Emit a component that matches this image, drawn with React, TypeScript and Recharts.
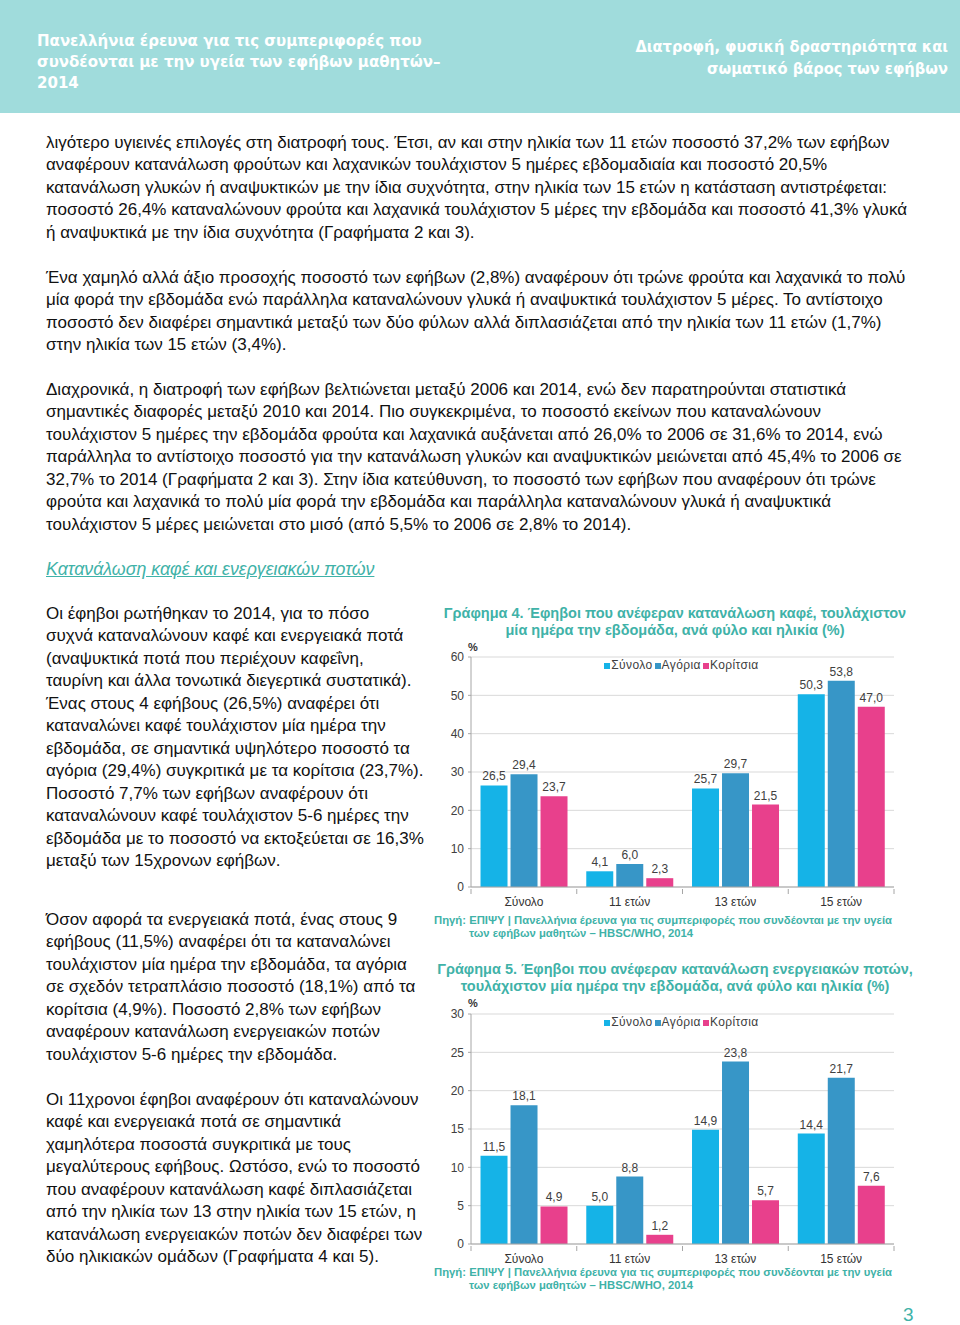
import { Bar, BarChart, CartesianGrid, LabelList, XAxis, YAxis } from 'recharts';

const categories = ['Σύνολο', '11 ετών', '13 ετών', '15 ετών'];
const seriesNames = ['Σύνολο', 'Αγόρια', 'Κορίτσια'];

// Γράφημα 4 - καφές
const coffeeTotal = [26.5, 4.1, 25.7, 50.3];
const coffeeBoys = [29.4, 6.0, 29.7, 53.8];
const coffeeGirls = [23.7, 2.3, 21.5, 47.0];
const coffeeTicks = [0, 10, 20, 30, 40, 50, 60];

// Γράφημα 5 - ενεργειακά ποτά
const energyTotal = [11.5, 5.0, 14.9, 14.4];
const energyBoys = [18.1, 8.8, 23.8, 21.7];
const energyGirls = [4.9, 1.2, 5.7, 7.6];
const energyTicks = [0, 5, 10, 15, 20, 25, 30];

const colors = ['#15b3e7', '#3796c7', '#e8408c'];
const teal = '#3fb2a8';
const font = '"Liberation Sans", Arial, sans-serif';

const fmt = (v: any) => Number(v).toFixed(1).replace('.', ',');

function buildRows(total: number[], boys: number[], girls: number[]) {
  return categories.map((c, i) => ({ name: c, total: total[i], boys: boys[i], girls: girls[i] }));
}

function XTick(props: any) {
  const { x, y, payload, index, visibleTicksCount } = props;
  const half = payload && payload.offset ? payload.offset : 0;
  const last = index === (visibleTicksCount ?? 4) - 1;
  return (
    <g>
      {half > 0 && <line x1={x - half} x2={x - half} y1={y - 6} y2={y - 1} stroke="#a6a6a6" />}
      {half > 0 && last && <line x1={x + half} x2={x + half} y1={y - 6} y2={y - 1} stroke="#a6a6a6" />}
      <text x={x} y={y + 11} textAnchor="middle" fontSize={12} fill="#333" fontFamily={font}>
        {payload.value}
      </text>
    </g>
  );
}

function LegendBox() {
  return (
    <div style={{ position: 'absolute', left: 41, width: 423, top: 19, display: 'flex', justifyContent: 'center', fontSize: 12, letterSpacing: 0.4, fontFamily: font, color: '#404040', lineHeight: '13px' }}>
      {seriesNames.map((n, i) => (
        <span key={n} style={{ display: 'flex', alignItems: 'center', marginRight: 2 }}>
          <span style={{ width: 6, height: 6, background: colors[i], display: 'inline-block', marginRight: 1 }} />
          {n}
        </span>
      ))}
    </div>
  );
}

function Chart({ rows, ticks, max, top }: { rows: any[]; ticks: number[]; max: number; top: number }) {
  const keys = ['total', 'boys', 'girls'];
  return (
    <div style={{ position: 'absolute', left: 430, top, width: 480, height: 280 }}>
      <BarChart width={480} height={280} data={rows} margin={{ top: 17, right: 16, bottom: 8, left: 11 }} barCategoryGap="9%" barGap={3}>
        <CartesianGrid vertical={false} stroke="#d9d9d9" />
        <XAxis dataKey="name" height={25} tickLine={false} stroke="#a6a6a6" tick={<XTick />} interval={0} />
        <YAxis
          width={30}
          domain={[0, max]}
          ticks={ticks}
          tickSize={3}
          tickMargin={4}
          stroke="#a6a6a6"
          tick={{ fontSize: 12, fill: '#404040', fontFamily: font }}
        />
        {keys.map((k, i) => (
          <Bar key={k} dataKey={k} name={seriesNames[i]} fill={colors[i]} isAnimationActive={false}>
            <LabelList dataKey={k} position="top" offset={5} formatter={fmt} style={{ fontSize: 12, fill: '#404040', fontFamily: font }} />
          </Bar>
        ))}
      </BarChart>
      <LegendBox />
    </div>
  );
}

const headLeft = ['Πανελλήνια έρευνα για τις συμπεριφορές που', 'συνδέονται με την υγεία των εφήβων μαθητών–', '2014'];
const headRight = ['Διατροφή, φυσική δραστηριότητα και', 'σωματικό βάρος των εφήβων'];

const para1 = [
  'λιγότερο υγιεινές επιλογές στη διατροφή τους. Έτσι, αν και στην ηλικία των 11 ετών ποσοστό 37,2% των εφήβων',
  'αναφέρουν κατανάλωση φρούτων και λαχανικών τουλάχιστον 5 ημέρες εβδομαδιαία και ποσοστό 20,5%',
  'κατανάλωση γλυκών ή αναψυκτικών με την ίδια συχνότητα, στην ηλικία των 15 ετών η κατάσταση αντιστρέφεται:',
  'ποσοστό 26,4% καταναλώνουν φρούτα και λαχανικά τουλάχιστον 5 μέρες την εβδομάδα και ποσοστό 41,3% γλυκά',
  'ή αναψυκτικά με την ίδια συχνότητα (Γραφήματα 2 και 3).',
];
const para2 = [
  'Ένα χαμηλό αλλά άξιο προσοχής ποσοστό των εφήβων (2,8%) αναφέρουν ότι τρώνε φρούτα και λαχανικά το πολύ',
  'μία φορά την εβδομάδα ενώ παράλληλα καταναλώνουν γλυκά ή αναψυκτικά τουλάχιστον 5 μέρες. Το αντίστοιχο',
  'ποσοστό δεν διαφέρει σημαντικά μεταξύ των δύο φύλων αλλά διπλασιάζεται από την ηλικία των 11 ετών (1,7%)',
  'στην ηλικία των 15 ετών (3,4%).',
];
const para3 = [
  'Διαχρονικά, η διατροφή των εφήβων βελτιώνεται μεταξύ 2006 και 2014, ενώ δεν παρατηρούνται στατιστικά',
  'σημαντικές διαφορές μεταξύ 2010 και 2014. Πιο συγκεκριμένα, το ποσοστό εκείνων που καταναλώνουν',
  'τουλάχιστον 5 ημέρες την εβδομάδα φρούτα και λαχανικά αυξάνεται από 26,0% το 2006 σε 31,6% το 2014, ενώ',
  'παράλληλα το αντίστοιχο ποσοστό για την κατανάλωση γλυκών και αναψυκτικών μειώνεται από 45,4% το 2006 σε',
  '32,7% το 2014 (Γραφήματα 2 και 3). Στην ίδια κατεύθυνση, το ποσοστό των εφήβων που αναφέρουν ότι τρώνε',
  'φρούτα και λαχανικά το πολύ μία φορά την εβδομάδα και παράλληλα καταναλώνουν γλυκά ή αναψυκτικά',
  'τουλάχιστον 5 μέρες μειώνεται στο μισό (από 5,5% το 2006 σε 2,8% το 2014).',
];
const left1 = [
  'Οι έφηβοι ρωτήθηκαν το 2014, για το πόσο',
  'συχνά καταναλώνουν καφέ και ενεργειακά ποτά',
  '(αναψυκτικά ποτά που περιέχουν καφεΐνη,',
  'ταυρίνη και άλλα τονωτικά διεγερτικά συστατικά).',
  'Ένας στους 4 εφήβους (26,5%) αναφέρει ότι',
  'καταναλώνει καφέ τουλάχιστον μία ημέρα την',
  'εβδομάδα, σε σημαντικά υψηλότερο ποσοστό τα',
  'αγόρια (29,4%) συγκριτικά με τα κορίτσια (23,7%).',
  'Ποσοστό 7,7% των εφήβων αναφέρουν ότι',
  'καταναλώνουν καφέ τουλάχιστον 5-6 ημέρες την',
  'εβδομάδα με το ποσοστό να εκτοξεύεται σε 16,3%',
  'μεταξύ των 15χρονων εφήβων.',
];
const left2 = [
  'Όσον αφορά τα ενεργειακά ποτά, ένας στους 9',
  'εφήβους (11,5%) αναφέρει ότι τα καταναλώνει',
  'τουλάχιστον μία ημέρα την εβδομάδα, τα αγόρια',
  'σε σχεδόν τετραπλάσιο ποσοστό (18,1%) από τα',
  'κορίτσια (4,9%). Ποσοστό 2,8% των εφήβων',
  'αναφέρουν κατανάλωση ενεργειακών ποτών',
  'τουλάχιστον 5-6 ημέρες την εβδομάδα.',
];
const left3 = [
  'Οι 11χρονοι έφηβοι αναφέρουν ότι καταναλώνουν',
  'καφέ και ενεργειακά ποτά σε σημαντικά',
  'χαμηλότερα ποσοστά συγκριτικά με τους',
  'μεγαλύτερους εφήβους. Ωστόσο, ενώ το ποσοστό',
  'που αναφέρουν κατανάλωση καφέ διπλασιάζεται',
  'από την ηλικία των 13 στην ηλικία των 15 ετών, η',
  'κατανάλωση ενεργειακών ποτών δεν διαφέρει των',
  'δύο ηλικιακών ομάδων (Γραφήματα 4 και 5).',
];

function Block({ lines, top, size = 17 }: { lines: string[]; top: number; size?: number }) {
  return (
    <div style={{ position: 'absolute', left: 46, top, fontSize: size, lineHeight: '22.5px', fontFamily: font, color: '#111', whiteSpace: 'nowrap' }}>
      {lines.map((l, i) => (
        <div key={i}>{l}</div>
      ))}
    </div>
  );
}

function Title({ lines, top }: { lines: string[]; top: number }) {
  return (
    <div style={{ position: 'absolute', left: 430, width: 490, top, textAlign: 'center', fontSize: 14.5, lineHeight: '17px', fontWeight: 'bold', color: teal, fontFamily: font, whiteSpace: 'nowrap' }}>
      {lines.map((l, i) => (
        <div key={i}>{l}</div>
      ))}
    </div>
  );
}

function Source({ top }: { top: number }) {
  const st = { fontSize: 11.3, lineHeight: '13px', fontWeight: 'bold' as const, color: teal, fontFamily: font, whiteSpace: 'nowrap' as const };
  return (
    <div style={{ position: 'absolute', left: 434, top, ...st }}>
      <div>Πηγή: ΕΠΙΨΥ | Πανελλήνια έρευνα για τις συμπεριφορές που συνδέονται με την υγεία</div>
      <div style={{ paddingLeft: 35 }}>των εφήβων μαθητών – HBSC/WHO, 2014</div>
    </div>
  );
}

export default function App() {
  const pct = { position: 'absolute' as const, left: 468, fontSize: 11, fontWeight: 'bold' as const, fontFamily: font, color: '#333' };
  const headFont = '"DejaVu Sans Condensed", "Liberation Sans Narrow", sans-serif';
  return (
    <div style={{ position: 'absolute', left: 0, top: 0, width: 960, height: 1325, background: '#fff', overflow: 'hidden' }}>
      <div style={{ position: 'absolute', left: 0, top: 0, width: 960, height: 113, background: '#a0dcdc' }} />
      <div style={{ position: 'absolute', left: 37, top: 30, fontSize: 16.7, lineHeight: '21px', fontWeight: 'bold', color: '#fff', fontFamily: headFont, whiteSpace: 'nowrap' }}>
        {headLeft.map((l, i) => (
          <div key={i}>{l}</div>
        ))}
      </div>
      <div style={{ position: 'absolute', right: 12, top: 36, fontSize: 16.3, lineHeight: '22px', fontWeight: 'bold', color: '#fff', textAlign: 'right', fontFamily: headFont, whiteSpace: 'nowrap' }}>
        {headRight.map((l, i) => (
          <div key={i}>{l}</div>
        ))}
      </div>

      <Block lines={para1} top={131.7} />
      <Block lines={para2} top={266.7} />
      <Block lines={para3} top={378.7} />
      <div style={{ position: 'absolute', left: 46, top: 557.7, fontSize: 17.8, lineHeight: '22.5px', fontFamily: font, color: teal, fontStyle: 'italic', textDecoration: 'underline' }}>
        Κατανάλωση καφέ και ενεργειακών ποτών
      </div>
      <Block lines={left1} top={602.7} />
      <Block lines={left2} top={908.7} />
      <Block lines={left3} top={1088.7} />

      <Title lines={['Γράφημα 4. Έφηβοι που ανέφεραν κατανάλωση καφέ, τουλάχιστον', 'μία ημέρα την εβδομάδα, ανά φύλο και ηλικία (%)']} top={605} />
      <div style={{ ...pct, top: 641 }}>%</div>
      <Chart rows={buildRows(coffeeTotal, coffeeBoys, coffeeGirls)} ticks={coffeeTicks} max={60} top={640} />
      <Source top={914} />

      <Title lines={['Γράφημα 5. Έφηβοι που ανέφεραν κατανάλωση ενεργειακών ποτών,', 'τουλάχιστον μία ημέρα την εβδομάδα, ανά φύλο και ηλικία (%)']} top={961} />
      <div style={{ ...pct, top: 997 }}>%</div>
      <Chart rows={buildRows(energyTotal, energyBoys, energyGirls)} ticks={energyTicks} max={30} top={997} />
      <Source top={1266} />

      <div style={{ position: 'absolute', left: 903, top: 1304, fontSize: 19, fontFamily: font, color: teal }}>3</div>
    </div>
  );
}
